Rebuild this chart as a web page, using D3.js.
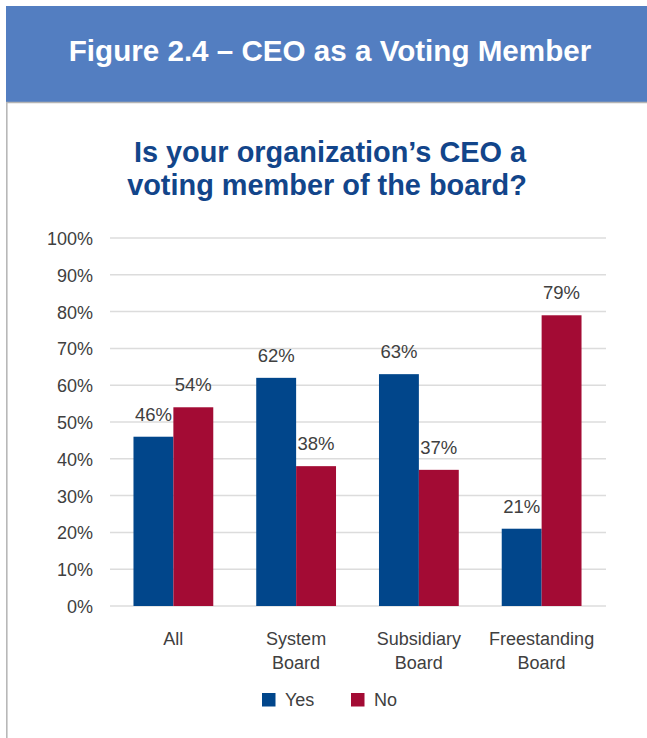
<!DOCTYPE html>
<html>
<head>
<meta charset="utf-8">
<script src="https://cdn.jsdelivr.net/npm/d3@7"></script>
<style>
  html, body { margin: 0; padding: 0; background: #ffffff; }
  svg { display: block; font-family: "Liberation Sans", Arial, Helvetica, sans-serif; }
</style>
</head>
<body>
<svg id="chart" width="647" height="738"></svg>
<script>
// Survey data: share of boards where the CEO is a voting member
const categories = [["All"], ["System", "Board"], ["Subsidiary", "Board"], ["Freestanding", "Board"]];
const seriesNames = ["Yes", "No"];
const yesValues = [46, 62, 63, 21];
const noValues = [54, 38, 37, 79];
const yTicks = [0, 10, 20, 30, 40, 50, 60, 70, 80, 90, 100];

const colors = { Yes: "#01468b", No: "#a30b34" };
const svg = d3.select("#chart");

// Header banner
svg.append("rect").attr("x", 6).attr("y", 6).attr("width", 641).attr("height", 96).attr("fill", "#537ec1");
svg.append("line").attr("x1", 6).attr("x2", 647).attr("y1", 102.5).attr("y2", 102.5)
  .attr("stroke", "#b4b4b4").attr("stroke-width", 1.5);
svg.append("line").attr("x1", 6.8).attr("x2", 6.8).attr("y1", 102).attr("y2", 738)
  .attr("stroke", "#b8b8b8").attr("stroke-width", 1.6);
svg.append("text").attr("x", 330).attr("y", 61).attr("text-anchor", "middle")
  .attr("fill", "#ffffff").attr("font-weight", "bold").attr("font-size", 29.6)
  .text("Figure 2.4 \u2013 CEO as a Voting Member");

// Chart title
const title = svg.append("text").attr("text-anchor", "middle").attr("fill", "#12458a")
  .attr("font-weight", "bold").attr("font-size", 28.9);
title.append("tspan").attr("x", 330).attr("y", 162).text("Is your organization\u2019s CEO a");
title.append("tspan").attr("x", 327).attr("y", 194.5).text("voting member of the board?");

// Scales
const y = d3.scaleLinear().domain([0, 100]).range([606, 238]);
const x0 = d3.scaleBand().domain(d3.range(categories.length)).range([112, 603])
  .paddingInner(0.35).paddingOuter(0.175);
const x1 = d3.scaleBand().domain(seriesNames).range([0, x0.bandwidth()]);

// Gridlines and y-axis labels
const yAxis = d3.axisLeft(y).tickValues(yTicks).tickSize(0).tickPadding(0)
  .tickFormat(d => d + "%");
const yg = svg.append("g").attr("transform", "translate(93,0)").call(yAxis);
yg.select(".domain").remove();
yg.selectAll("text").attr("font-size", 18).attr("fill", "#404040")
  .attr("font-family", "\"Liberation Sans\", Arial, sans-serif").attr("dy", "0.36em");

svg.append("g").selectAll("line").data(yTicks).join("line")
  .attr("x1", 110).attr("x2", 606)
  .attr("y1", d => y(d)).attr("y2", d => y(d))
  .attr("stroke", "#dcdcdc").attr("stroke-width", 1.5);

// Bars
const rows = categories.map((c, i) => ({ i, values: [
  { key: "Yes", value: yesValues[i] },
  { key: "No", value: noValues[i] }
]}));

const groups = svg.append("g").selectAll("g").data(rows).join("g")
  .attr("transform", d => `translate(${x0(d.i)},0)`);

groups.selectAll("rect").data(d => d.values).join("rect")
  .attr("x", d => x1(d.key))
  .attr("width", x1.bandwidth())
  .attr("y", d => y(d.value))
  .attr("height", d => y(0) - y(d.value))
  .attr("fill", d => colors[d.key]);

groups.selectAll("text.val").data(d => d.values).join("text")
  .attr("class", "val")
  .attr("x", d => x1(d.key) + x1.bandwidth() / 2)
  .attr("y", d => y(d.value) - 16)
  .attr("text-anchor", "middle")
  .attr("font-size", 18.5).attr("fill", "#404040")
  .text(d => d.value + "%");

// Category labels
const catLabels = svg.append("g").selectAll("text").data(rows).join("text")
  .attr("text-anchor", "middle").attr("font-size", 18).attr("fill", "#404040");
catLabels.each(function(d) {
  const t = d3.select(this);
  categories[d.i].forEach((line, k) => {
    t.append("tspan").attr("x", x0(d.i) + x0.bandwidth() / 2).attr("y", 645 + k * 23.5).text(line);
  });
});

// Legend
const legendItems = [{ key: "Yes", x: 262 }, { key: "No", x: 351 }];
const lg = svg.append("g").selectAll("g").data(legendItems).join("g")
  .attr("transform", d => `translate(${d.x},693)`);
lg.append("rect").attr("width", 13.5).attr("height", 13.5).attr("fill", d => colors[d.key]);
lg.append("text").attr("x", 23).attr("y", 13)
  .attr("font-size", 18).attr("fill", "#404040").text(d => d.key);
</script>
</body>
</html>
